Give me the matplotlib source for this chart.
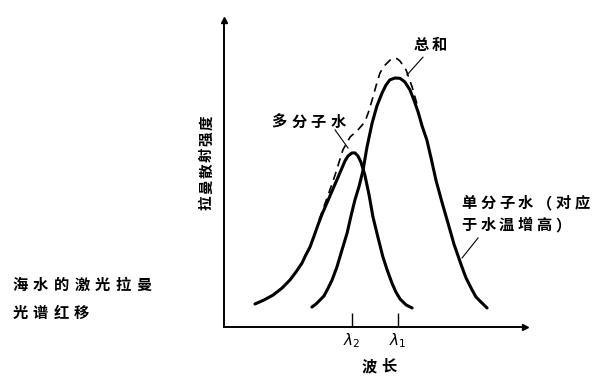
import matplotlib
matplotlib.use('Agg')
import matplotlib.pyplot as plt

# 曲线数据（波长、强度，任意单位，读自原图）
multi_x = [10.3, 13.3, 16.3, 19.3, 21.9, 23.9, 25.9, 27.2, 28.6, 29.9,
           31.2, 32.6, 34.2, 35.9, 37.5, 38.9, 40.2, 41.2, 42.5, 43.5,
           44.5, 45.5, 46.8, 48.2, 49.5, 51.2, 52.8, 54.2, 55.8, 57.1,
           58.5, 60.5, 62.5]
multi_y = [7.5, 8.8, 10.4, 12.7, 15.3, 17.9, 20.8, 23.5, 26.1, 29.6,
           33.2, 36.8, 40.4, 44.3, 47.9, 51.1, 54.1, 55.7, 56.7, 56.7,
           55.7, 53.7, 49.5, 43.0, 35.8, 29.0, 22.8, 18.6, 14.3, 11.4,
           9.1, 7.2, 6.2]

single_x = [29.2, 30.6, 31.9, 33.2, 34.6, 35.9, 37.5, 39.2, 40.9, 42.2,
            43.5, 44.9, 46.2, 47.5, 49.2, 50.8, 52.5, 53.8, 55.1, 56.8,
            58.5, 60.1, 61.8, 63.1, 64.5, 65.8, 67.4, 68.8, 70.4, 72.4,
            74.4, 76.4, 78.7, 80.4, 82.4, 83.7, 85.0, 87.4]
single_y = [6.5, 7.5, 8.8, 10.1, 12.7, 15.3, 19.5, 25.1, 30.6, 36.2,
            41.4, 45.9, 51.1, 58.6, 66.4, 72.0, 76.2, 78.8, 80.5, 81.1,
            81.0, 79.8, 77.2, 73.9, 70.0, 65.5, 60.9, 55.0, 47.9, 40.7,
            33.9, 27.0, 20.5, 16.0, 12.1, 9.8, 8.5, 6.2]

total_x = [31.6, 34.6, 36.9, 39.5, 41.9, 44.5, 46.8, 48.0, 49.2, 50.5,
           51.8, 53.2, 54.5, 55.5, 56.5, 57.5, 58.5, 60.5, 62.5, 64.5]
total_y = [34.9, 43.0, 49.5, 57.7, 61.9, 64.2, 66.8, 70.0, 73.9, 78.5,
           82.7, 85.0, 86.3, 87.2, 87.6, 87.4, 86.6, 83.7, 78.2, 71.3]

tick_pos = [42.5, 57.8]
tick_labels = [r'$\lambda_2$', r'$\lambda_1$']

CJK = ['Noto Sans CJK SC', 'DejaVu Sans']
W, H = 600, 388

fig = plt.figure(figsize=(6, 3.88), dpi=100)
ax = fig.add_axes([224 / W, 1 - 327 / H, (525 - 224) / W, (327 - 20) / H])


def px_text(x, y, s, pitch, size=11, rotate=False):
    """逐字放置文字（像素坐标），模拟原图的字距"""
    for i, ch in enumerate(s):
        if rotate:
            xx, yy = x, y - i * pitch
        else:
            xx, yy = x + i * pitch, y
        fig.text(xx / W, 1 - yy / H, ch, family=CJK, fontsize=size,
                 fontweight='bold', ha='center', va='center',
                 rotation=90 if rotate else 0)


ax.plot(multi_x, multi_y, color='black', lw=2.2, solid_joinstyle='round',
        solid_capstyle='round')
ax.plot(single_x, single_y, color='black', lw=2.2, solid_joinstyle='round',
        solid_capstyle='round')
ax.plot(total_x, total_y, color='black', lw=1.2, ls=(0, (5, 3.5)))

# 引线
for (x0, y0), (x1, y1) in [((66.1, 87.9), (60.8, 82.1)),
                           ((36.9, 64.2), (41.2, 58.3)),
                           ((84.4, 29.0), (79.1, 22.5))]:
    ax.plot([x0, x1], [y0, y1], color='black', lw=0.8, clip_on=False)

ax.set_xlim(0, 100)
ax.set_ylim(0, 100)
for side in ['top', 'right']:
    ax.spines[side].set_visible(False)
for side in ['left', 'bottom']:
    ax.spines[side].set_linewidth(1.4)
ax.set_yticks([])
ax.set_xticks(tick_pos)
ax.set_xticklabels(tick_labels, fontsize=11)
ax.tick_params(axis='x', direction='in', length=10, width=1, pad=3)

# 坐标轴箭头
ax.plot(0, 100, marker='^', ms=5, color='black', clip_on=False)
ax.plot(100, 0, marker='>', ms=5, color='black', clip_on=False)

# 文字
px_text(421, 45, '总和', 18.5)
px_text(279, 122, '多分子水', 19.7)
px_text(469, 203, '单分子水（对应', 18.8)
px_text(469, 225, '于水温增高）', 18.8)
px_text(369, 366, '波长', 20)
px_text(206, 203, '拉曼散射强度', 16, size=10.5, rotate=True)
px_text(20, 285, '海水的激光拉曼', 20.6)
px_text(20, 313, '光谱红移', 20.6)

fig.savefig('out.png', dpi=100)
